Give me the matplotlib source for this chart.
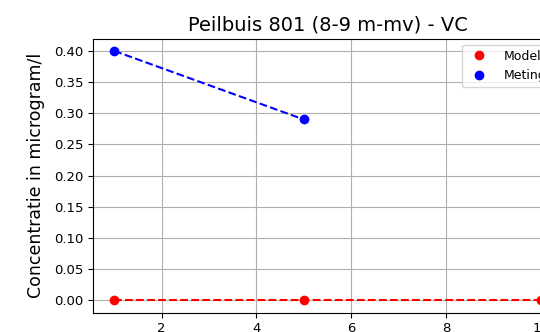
import matplotlib
matplotlib.use("Agg")
import matplotlib.pyplot as plt

# Data
model_x = [1, 5, 10]
model_y = [0.0, 0.0, 0.0]
meting_x = [1, 5]
meting_y = [0.40, 0.29]

fig = plt.figure(figsize=(5.4, 3.32), dpi=100)
# axes run past the right edge, as in the cropped reference
ax = fig.add_axes([93 / 540, 1 - 312.5 / 332, 469 / 540, 274 / 332])

ax.plot(model_x, model_y, "r--")
ax.plot(meting_x, meting_y, "b--")
ax.plot(model_x, model_y, "o", color="red", markersize=6, label="Model")
ax.plot(meting_x, meting_y, "o", color="blue", markersize=6, label="Metingen")

ax.set_ylabel("Concentratie in microgram/l", fontsize=12.5, labelpad=6)
ax.set_title("Peilbuis 801 (8-9 m-mv) - VC", fontsize=14)
ax.tick_params(labelsize=9.5)
ax.grid(True)
ax.legend(loc="upper right", fontsize=9, handletextpad=1.0,
          bbox_to_anchor=(1.025, 1.0))

fig.savefig("out.png", dpi=100)
